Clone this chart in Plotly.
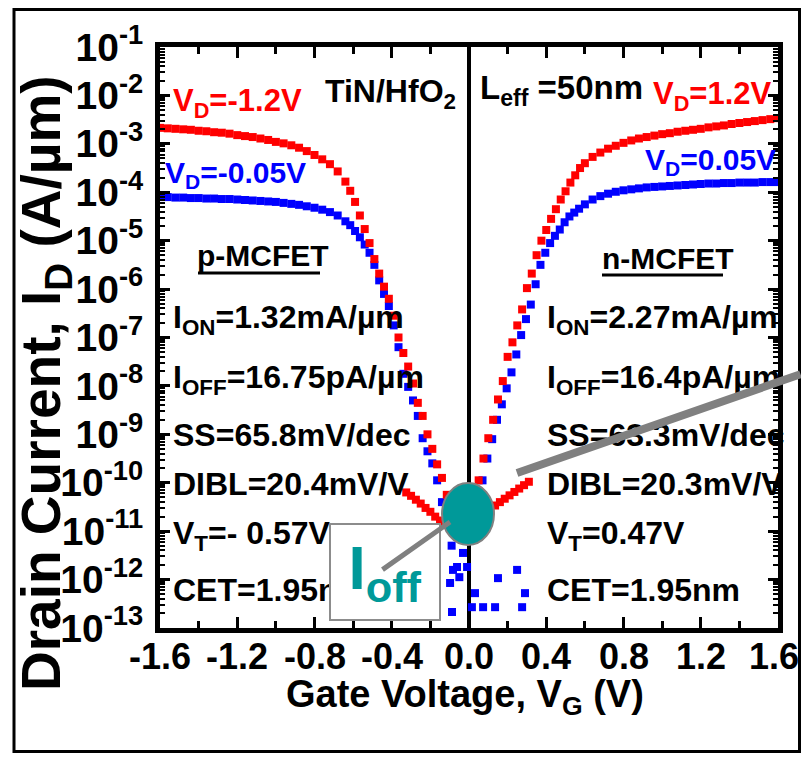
import plotly.graph_objects as go

# ---------------- data ----------------
# gate voltage (V) and log10 of drain current (A/um)
vg_p_red = [-1.60, -1.56, -1.52, -1.48, -1.44, -1.40, -1.36, -1.32, -1.28, -1.24, -1.20, -1.16, -1.12,
            -1.08, -1.04, -1.00, -0.96, -0.92, -0.88, -0.84, -0.80, -0.76, -0.72, -0.68, -0.64,
            -0.615, -0.59, -0.565, -0.54, -0.515, -0.49, -0.465, -0.44, -0.415, -0.39, -0.365, -0.34,
            -0.315, -0.29, -0.265, -0.24, -0.215, -0.19, -0.165, -0.14, -0.115, -0.09, -0.065, -0.04,
            -0.015, 0.01, 0.035, 0.06, 0.085, 0.11, 0.135, 0.16, 0.185, 0.21, 0.235, 0.26, 0.285, 0.31]
logid_p_red = [-2.67, -2.68, -2.69, -2.70, -2.71, -2.73, -2.74, -2.76, -2.77, -2.79, -2.82, -2.84, -2.86,
               -2.89, -2.92, -2.96, -2.99, -3.03, -3.08, -3.15, -3.23, -3.32, -3.42, -3.57, -3.78,
               -3.97, -4.20, -4.48, -4.76, -5.05, -5.38, -5.68, -5.95, -6.20, -6.55, -7.00, -7.32,
               -7.60, -7.95, -8.35, -8.62, -9.00, -9.30, -9.62, -9.90, -10.25, -10.60, -10.85, -10.98,
               -11.02, -10.98, -10.88, -10.78, -10.66, -10.55, -10.47, -10.40, -10.33, -10.26, -10.19,
               -10.12, -10.05, -9.98]

vg_p_blue = [-1.60, -1.56, -1.52, -1.48, -1.44, -1.40, -1.36, -1.32, -1.28, -1.24, -1.20, -1.16, -1.12,
             -1.08, -1.04, -1.00, -0.96, -0.92, -0.88, -0.84, -0.80, -0.76, -0.72, -0.68, -0.64,
             -0.615, -0.59, -0.565, -0.54, -0.515, -0.49, -0.465, -0.44, -0.415, -0.39, -0.365, -0.34,
             -0.315, -0.29, -0.265, -0.24, -0.215, -0.19, -0.165, -0.14, -0.115, -0.09, -0.083, -0.098,
             -0.088, -0.05, -0.01, 0.031, 0.073, 0.135, 0.15, 0.249, 0.275, 0.29]
logid_p_blue = [-4.10, -4.10, -4.11, -4.11, -4.12, -4.12, -4.13, -4.13, -4.14, -4.14, -4.15, -4.16, -4.17,
                -4.18, -4.19, -4.20, -4.22, -4.24, -4.26, -4.29, -4.32, -4.36, -4.41, -4.48, -4.60,
                -4.68, -4.80, -4.93, -5.08, -5.25, -5.50, -5.82, -6.10, -6.35, -6.75, -7.20, -7.75,
                -8.02, -8.30, -8.62, -9.08, -9.35, -9.60, -9.95, -10.40, -10.85, -11.30, -11.80, -12.07,
                -12.67, -11.95, -11.74, -12.28, -12.57, -12.57, -11.97, -11.80, -12.57, -12.28]

vg_n_red = [-0.325, -0.30, -0.275, -0.25, -0.225, -0.20, -0.175, -0.15, -0.125, -0.10, -0.075, -0.05,
            -0.025, 0.0, 0.025, 0.05, 0.075, 0.10, 0.125, 0.15, 0.175, 0.20, 0.225, 0.25, 0.275, 0.30,
            0.325, 0.35, 0.375, 0.40, 0.425, 0.45, 0.475, 0.50, 0.525, 0.55, 0.575, 0.60,
            0.64, 0.68, 0.72, 0.76, 0.80, 0.84, 0.88, 0.92, 0.96, 1.00, 1.04, 1.08, 1.12, 1.16, 1.20,
            1.24, 1.28, 1.32, 1.36, 1.40, 1.44, 1.48, 1.52, 1.56, 1.60]
logid_n_red = [-10.20, -10.27, -10.35, -10.43, -10.52, -10.60, -10.70, -10.78, -10.85, -10.92, -10.97, -11.00,
               -10.90, -10.60, -10.25, -9.95, -9.50, -9.08, -8.70, -8.28, -7.90, -7.40, -7.10, -6.75, -6.42,
               -5.98, -5.68, -5.30, -5.00, -4.78, -4.55, -4.35, -4.15, -3.98, -3.80, -3.65, -3.50, -3.40,
               -3.27, -3.18, -3.10, -3.04, -2.98, -2.93, -2.89, -2.86, -2.83, -2.80, -2.78, -2.75, -2.73,
               -2.71, -2.69, -2.66, -2.64, -2.62, -2.59, -2.57, -2.55, -2.53, -2.51, -2.49, -2.47]

vg_n_blue = [-0.062, -0.031, -0.005, 0.015, 0.025, 0.045, 0.07, 0.095, 0.12, 0.145, 0.17, 0.195, 0.22,
             0.245, 0.27, 0.295, 0.32, 0.345, 0.37, 0.395, 0.42, 0.445, 0.47, 0.495, 0.52, 0.545, 0.57,
             0.60, 0.64, 0.68, 0.72, 0.76, 0.80, 0.84, 0.88, 0.92, 0.96, 1.00, 1.04, 1.08, 1.12, 1.16,
             1.20, 1.24, 1.28, 1.32, 1.36, 1.40, 1.44, 1.48, 1.52, 1.56, 1.60]
logid_n_blue = [-11.74, -11.45, -11.20, -12.57, -10.90, -10.40, -9.95, -9.50, -9.10, -8.70, -8.38, -8.05,
                -7.72, -7.35, -6.95, -6.62, -6.32, -5.90, -5.50, -5.25, -5.05, -4.90, -4.77, -4.62, -4.50,
                -4.42, -4.34, -4.25, -4.15, -4.08, -4.03, -3.99, -3.96, -3.94, -3.92, -3.90, -3.89, -3.88,
                -3.87, -3.86, -3.85, -3.84, -3.83, -3.82, -3.82, -3.81, -3.81, -3.80, -3.80, -3.80, -3.79,
                -3.79, -3.79]

x_ticks = [-1.6, -1.2, -0.8, -0.4, 0.0, 0.4, 0.8, 1.2, 1.6]
x_tick_labels = ["-1.6", "-1.2", "-0.8", "-0.4", "0.0", "0.4", "0.8", "1.2", "1.6"]
y_ticks = [1e-13, 1e-12, 1e-11, 1e-10, 1e-9, 1e-8, 1e-7, 1e-6, 1e-5, 1e-4, 1e-3, 1e-2, 1e-1]
y_tick_labels = ["10<sup>-13</sup>", "10<sup>-12</sup>", "10<sup>-11</sup>", "10<sup>-10</sup>",
                 "10<sup>-9</sup>", "10<sup>-8</sup>", "10<sup>-7</sup>", "10<sup>-6</sup>",
                 "10<sup>-5</sup>", "10<sup>-4</sup>", "10<sup>-3</sup>", "10<sup>-2</sup>",
                 "10<sup>-1</sup>"]

left_params = ["I<sub>ON</sub>=1.32mA/\u00b5m", "I<sub>OFF</sub>=16.75pA/\u00b5m", "SS=65.8mV/dec",
               "DIBL=20.4mV/V", "V<sub>T</sub>=- 0.57V", "CET=1.95nm"]
right_params = ["I<sub>ON</sub>=2.27mA/\u00b5m", "I<sub>OFF</sub>=16.4pA/\u00b5m", "SS=63.3mV/dec",
                "DIBL=20.3mV/V", "V<sub>T</sub>=0.47V", "CET=1.95nm"]

# ---------------- styling ----------------
RED = "#ff0000"
BLUE = "#0000ff"
TEAL = "#009999"
GRAY = "#808080"
FONT = "Liberation Sans Narrow, Arial Narrow, Liberation Sans, Arial, sans-serif"
WIDE = "Liberation Sans, Arial, sans-serif"

# the page body has an 8px margin: keep the figure inside the window without scrolling
OFF = 8
W, H = 809 - 2 * OFF, 761 - 2 * OFF
L, R, T, B = 160, 778, 47, 628  # plot area in window pixels


def px(xp):
    return (xp - L) / (R - L)


def py(yp):
    return (B - yp) / (B - T)


fig = go.Figure()


def add_curve(vg, logid, color):
    fig.add_trace(go.Scatter(
        x=vg, y=[10 ** v for v in logid], mode="markers",
        marker=dict(symbol="square", size=8, color=color, line=dict(width=0)),
        showlegend=False, hoverinfo="skip"))


add_curve(vg_p_blue, logid_p_blue, BLUE)
add_curve(vg_n_blue, logid_n_blue, BLUE)
add_curve(vg_p_red, logid_p_red, RED)
add_curve(vg_n_red, logid_n_red, RED)

annotations = []


def text(t, x, y, color="black", size=31, family=FONT, xanchor="left"):
    annotations.append(dict(
        text=t, xref="paper", yref="paper", x=px(x), y=py(y), xanchor=xanchor, yanchor="middle",
        showarrow=False, font=dict(family=family, size=size, color=color, weight="bold"),
        borderpad=0))


# x tick labels, placed at the tick values of the x axis
for i, (v, lab) in enumerate(zip(x_ticks, x_tick_labels)):
    annotations.append(dict(
        text=lab, xref="x", yref="paper", x=v, y=py(656), xanchor="center", yanchor="middle",
        xshift=-4 if i == len(x_ticks) - 1 else 0,
        showarrow=False, borderpad=0,
        font=dict(family=FONT, size=36, color="black", weight="bold")))

text("V<sub>D</sub>=-1.2V", 172, 103, RED, 31)
text("TiN/HfO<sub>2</sub>", 324, 93, "black", 32)
text("L<sub>eff</sub> =50nm", 479, 90, "black", 33)
text("V<sub>D</sub>=1.2V", 652, 96, RED, 31)
text("V<sub>D</sub>=0.05V", 644, 161, BLUE, 30)
text("V<sub>D</sub>=-0.05V", 164, 174, BLUE, 30)
text("p-MCFET", 196, 256, "black", 30)
text("n-MCFET", 601, 258, "black", 30)

rows_y = [314, 374, 435, 484, 530, 590]
for t, yy in zip(left_params, rows_y):
    text(t, 172, yy + 5 if "<sub>" in t else yy, size=32)
for t, yy in zip(right_params, rows_y):
    text(t, 546, yy + 5 if "<sub>" in t else yy, size=32)

# axis titles
annotations.append(dict(
    text="Drain Current, I<sub>D</sub> (A/\u00b5m)", xref="paper", yref="paper",
    x=px(45), y=py(383), xanchor="center", yanchor="middle", textangle=-90, showarrow=False,
    font=dict(family=WIDE, size=55, color="black", weight="bold")))
annotations.append(dict(
    text="Gate Voltage, V<sub>G</sub> (V)", xref="paper", yref="paper",
    x=px(465), y=py(697), xanchor="center", yanchor="middle", showarrow=False,
    font=dict(family=FONT, size=38, color="black", weight="bold")))

# I_off box
annotations.append(dict(
    text="I<sub>off</sub>", xref="paper", yref="paper", x=px(385), y=py(572),
    xanchor="center", yanchor="middle", showarrow=False, width=108, height=94,
    bgcolor="white", bordercolor="#8c8c8c", borderwidth=2, borderpad=0,
    font=dict(family=WIDE, size=62, color=TEAL, weight="bold")))

# grey pointer lines
annotations.append(dict(
    text=" ", xref="paper", yref="paper", x=px(450), y=py(522), ax=382 - 450, ay=570 - 522,
    showarrow=True, arrowhead=0, arrowwidth=5, arrowcolor=GRAY, standoff=0, startstandoff=0,
    font=dict(size=1), borderpad=0))
annotations.append(dict(
    text=" ", xref="paper", yref="paper", x=px(517), y=py(473), ax=812 - 517, ay=374 - 473,
    showarrow=True, arrowhead=0, arrowwidth=8, arrowcolor=GRAY, standoff=0, startstandoff=0,
    font=dict(size=1), borderpad=0))

shapes = [
    # outer frame
    dict(type="rect", xref="paper", yref="paper", x0=px(14), x1=px(799.5), y0=py(9.5), y1=py(751.5),
         line=dict(color="black", width=3), layer="above"),
    # underlines
    dict(type="line", xref="paper", yref="paper", x0=px(198), x1=px(320), y0=py(273), y1=py(273),
         line=dict(color="black", width=3)),
    dict(type="line", xref="paper", yref="paper", x0=px(602), x1=px(723), y0=py(275), y1=py(275),
         line=dict(color="black", width=3)),
    # I_off ellipse
    dict(type="circle", xref="paper", yref="paper", x0=px(442), x1=px(494), y0=py(483), y1=py(545),
         fillcolor=TEAL, line=dict(color=GRAY, width=2), layer="above"),
]

fig.update_layout(
    width=W, height=H,
    margin=dict(l=L - OFF, r=W - (R - OFF), t=T - OFF, b=H - (B - OFF), pad=0, autoexpand=False),
    paper_bgcolor="white", plot_bgcolor="white",
    showlegend=False,
    annotations=annotations, shapes=shapes,
    xaxis=dict(
        range=[-1.6, 1.6], tickmode="array", tickvals=x_ticks, showticklabels=False,
        ticks="inside", ticklen=11, tickwidth=3, tickcolor="black", automargin=False,
        minor=dict(ticks="inside", dtick=0.2, tick0=-1.6, ticklen=7, tickwidth=3, tickcolor="black"),
        showline=True, linewidth=5, linecolor="black", mirror="ticks",
        showgrid=False, zeroline=True, zerolinecolor="black", zerolinewidth=4),
    yaxis=dict(
        type="log", range=[-13, -1], tickmode="array", tickvals=y_ticks, ticktext=y_tick_labels,
        ticks="inside", ticklen=10, tickwidth=3, tickcolor="black", automargin=False,
        ticklabelstandoff=4,
        minor=dict(ticks="inside", dtick="D1", ticklen=5, tickwidth=2, tickcolor="black"),
        showline=True, linewidth=5, linecolor="black", mirror="ticks",
        showgrid=False, zeroline=False,
        tickfont=dict(family=FONT, size=39, color="black", weight="bold")),
)

fig.write_html("out.html")
